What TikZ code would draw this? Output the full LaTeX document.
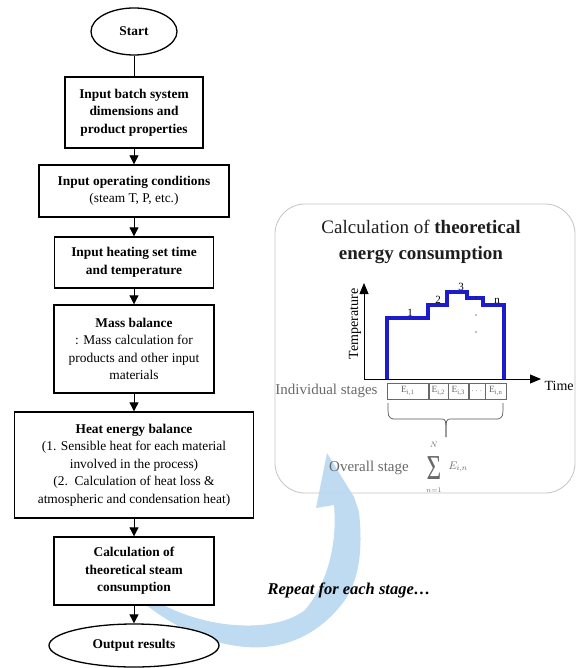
\documentclass[tikz,border=0pt]{standalone}
\usepackage{fontspec}
\usepackage{graphicx}
\setmainfont{Liberation Serif}
\usetikzlibrary{arrows.meta,shapes.geometric}
\definecolor{bandblue}{RGB}{184,215,240}
\definecolor{stepblue}{RGB}{28,28,205}
\definecolor{panelgray}{RGB}{195,195,195}
\definecolor{txtgray}{RGB}{105,105,105}
\begin{document}
\begin{tikzpicture}[x=1pt,y=-1pt,
  box/.style={draw=black, line width=1.3pt, fill=white, align=center, inner sep=2pt,
    font=\fontsize{13.4}{17.5}\selectfont},
  bbox/.style={box, font=\fontsize{13.4}{17.5}\selectfont\bfseries},
  term/.style={ellipse, draw=black, line width=1.3pt, fill=white, inner sep=0pt,
    font=\fontsize{13.4}{17.5}\selectfont\bfseries},
  flow/.style={line width=0.8pt, -{Triangle[width=9pt,length=9pt]}},
  axisline/.style={line width=0.8pt, -{Triangle[width=9pt,length=11pt]}},
  cell/.style={draw=txtgray, line width=0.5pt, inner sep=0pt, minimum height=16pt,
    font=\fontsize{9.5}{9.5}\selectfont, text=txtgray},
  steplabel/.style={font=\fontsize{11}{11}\selectfont, inner sep=0pt, anchor=south},
  graytext/.style={font=\fontsize{15}{15}\selectfont, text=txtgray},
  sumpart/.style={text=txtgray, inner sep=0pt}
]
\useasboundingbox (0,0) rectangle (577,668);

% panel
\draw[panelgray, line width=0.8pt, rounded corners=30pt] (275,204) rectangle (575,493);

% curved blue arrow
\fill[bandblue, fill opacity=0.9]
  (140,600) .. controls (200,650) and (290,675) .. (345,600)
  .. controls (362,575) and (362,540) .. (359,512)
  -- (354,497) -- (327,453) -- (316,508) -- (334,505)
  .. controls (337,540) and (330,580) .. (305,610)
  .. controls (270,637) and (190,627) .. (146,594) -- cycle;

% flowchart
\node[term, minimum width=86pt, minimum height=47pt] (start) at (134,31.5) {Start};
\node[bbox, minimum width=138pt, minimum height=71pt] (b1) at (134,112.5)
  {Input batch system\\dimensions and\\product properties};
\node[box, minimum width=190pt, minimum height=52pt] (b2) at (134,191)
  {\textbf{Input operating conditions}\\(steam T, P, etc.)};
\node[bbox, minimum width=159pt, minimum height=51pt] (b3) at (134,262.5)
  {Input heating set time\\and temperature};
\node[box, minimum width=160pt, minimum height=88pt] (b4) at (134,349)
  {\textbf{Mass balance}\\: Mass calculation for\\products and other input\\materials};
\node[box, minimum width=239pt, minimum height=106pt] (b5) at (134,465)
  {\textbf{Heat energy balance}\\(1. Sensible heat for each material\\involved in the process)\\(2.\ \ Calculation of heat loss \&\\atmospheric and condensation heat)};
\node[bbox, minimum width=160pt, minimum height=68pt] (b6) at (134,571)
  {Calculation of\\theoretical steam\\consumption};
\node[term, minimum width=170pt, minimum height=43pt] (out) at (134,645.5) {Output results};

\draw[line width=0.8pt] (start) -- (b1);
\draw[flow] (b1) -- (b2);
\draw[flow] (b2) -- (b3);
\draw[flow] (b3) -- (b4);
\draw[flow] (b4) -- (b5);
\draw[flow] (b5) -- (b6);
\draw[flow] (b6) -- (out);

% title
\node[font=\fontsize{19}{26}\selectfont, align=center, text={rgb,255:red,30;green,30;blue,30}] (title) at (421,242)
  {Calculation of \textbf{theoretical}\\\textbf{energy consumption}};

% graph axes
\coordinate (O) at (364,379);
\coordinate (ytip) at (364,283);
\coordinate (xtip) at (541,379);
\draw[axisline] (O) -- (ytip);
\draw[axisline] (O) -- (xtip);
\node[rotate=90, font=\fontsize{14}{14}\selectfont] (templbl) at (355,324) {Temperature};
\node[font=\fontsize{14}{14}\selectfont, anchor=west] (timelbl) at (541,386) {Time};

% steps
\draw[stepblue, line width=4.5pt, line join=miter]
  (387,379) -- (387,318) -- (428,318) -- (428,305) -- (447,305) -- (447,292)
  -- (467,292) -- (467,298) -- (483,298) -- (483,305) -- (504,305) -- (504,379);
\node[steplabel] (l1) at (410,317) {1};
\node[steplabel] (l2) at (438,304) {2};
\node[steplabel] (l3) at (461,291) {3};
\node[steplabel] (ln) at (497,304) {n};
\fill (476,297) circle (0.7);
\fill (476,315) circle (0.7);
\fill (476,332) circle (0.7);

% stages table
\node[graytext] (indiv) at (326.5,391) {Individual stages};
\node[cell, minimum width=41pt, anchor=west] (c1) at (387,391) {E\textsubscript{i,1}};
\node[cell, minimum width=19pt, anchor=west] (c2) at (c1.east) {E\textsubscript{i,2}};
\node[cell, minimum width=20pt, anchor=west] (c3) at (c2.east) {E\textsubscript{i,3}};
\node[cell, minimum width=16pt, anchor=west] (c4) at (c3.east) {$\cdots$};
\node[cell, minimum width=21pt, anchor=west] (c5) at (c4.east) {E\textsubscript{i,n}};

% brace
\coordinate (bl) at (388,403);
\coordinate (br) at (503,403);
\coordinate (bm) at (446,437);
\draw[txtgray!80!black, line width=0.7pt]
  (bl) .. controls (388,417) .. (393,419) -- (441,419) .. controls (446,419) .. (bm);
\draw[txtgray!80!black, line width=0.7pt]
  (br) .. controls (503,417) .. (498,419) -- (451,419) .. controls (446,419) .. (bm);

% overall
\node[graytext] (overall) at (369,468) {Overall stage};
\node[sumpart] (sigma) at (434,468)
  {\raisebox{0pt}[23pt][0pt]{\scalebox{0.9}[1.25]{\fontsize{28}{28}\selectfont Σ}}};
\node[sumpart, font=\fontsize{8}{8}\selectfont, anchor=south] (sumN) at (434,448) {$N$};
\node[sumpart, font=\fontsize{7.5}{7.5}\selectfont, anchor=north] (sumn) at (434,487.5) {$n{=}1$};
\node[sumpart, font=\fontsize{11}{11}\selectfont] (Ein) at (458,467) {$E_{i,n}$};

% repeat text
\node[font=\fontsize{16.5}{16.5}\selectfont\bfseries\itshape] (repeat) at (349,590) {Repeat for each stage…};
\end{tikzpicture}
\end{document}
